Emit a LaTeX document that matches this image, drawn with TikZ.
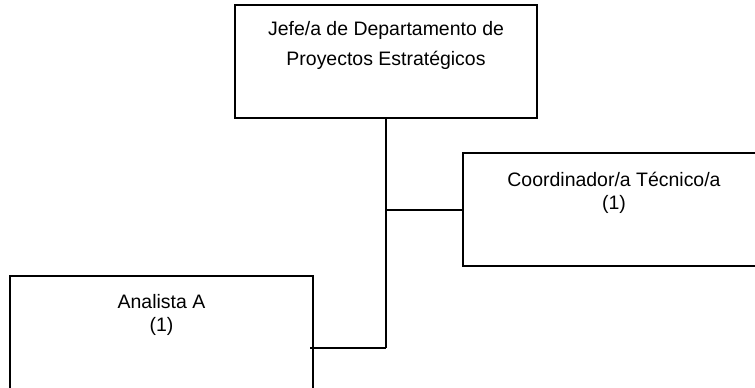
\documentclass[tikz,border=0pt]{standalone}
\usepackage{fontspec}
\setmainfont{Liberation Sans}
\usetikzlibrary{calc}
\begin{document}
\begin{tikzpicture}[x=0.75pt,y=-0.75pt,
  box/.style={draw, line width=1.5pt, rectangle, inner sep=0pt},
  lbl/.style={align=center, anchor=base, inner sep=0pt},
  conn/.style={line width=1.5pt}]
\useasboundingbox (0,0) rectangle (755,387);
% boxes
\node[box, minimum width=226.5pt, minimum height=84.75pt] (jefe) at (386,61.5) {};
\node[box, minimum width=220.5pt, minimum height=84.75pt] (coord) at (610,209.5) {};
\node[box, minimum width=227.25pt, minimum height=86.25pt] (ana) at (161.5,333) {};
% texts (base anchor = baseline of the last line)
\node[lbl, font=\fontsize{14.6pt}{22.5pt}\selectfont] (jefet) at ($(jefe.north)+(0,61.7)$) {Jefe/a de Departamento de\\Proyectos Estratégicos};
\node[lbl, font=\fontsize{14.6pt}{17pt}\selectfont] (coordt) at ($(coord.north)+(4,57)$) {Coordinador/a Técnico/a\\(1)};
\node[lbl, font=\fontsize{14.6pt}{17pt}\selectfont] (anat) at ($(ana.north)+(0,56.7)$) {Analista A\\(1)};
% connectors
\coordinate (j1) at (jefe.south |- coord.west);
\coordinate (j2) at ($(jefe.south)+(0,229)$);
\coordinate (aend) at ($(ana.east |- j2)+(-4,0)$);
\draw[conn] (jefe.south) -- (j2);
\draw[conn] (j1) -- (coord.west);
\draw[conn] (j2) -- (aend);
\end{tikzpicture}
\end{document}
